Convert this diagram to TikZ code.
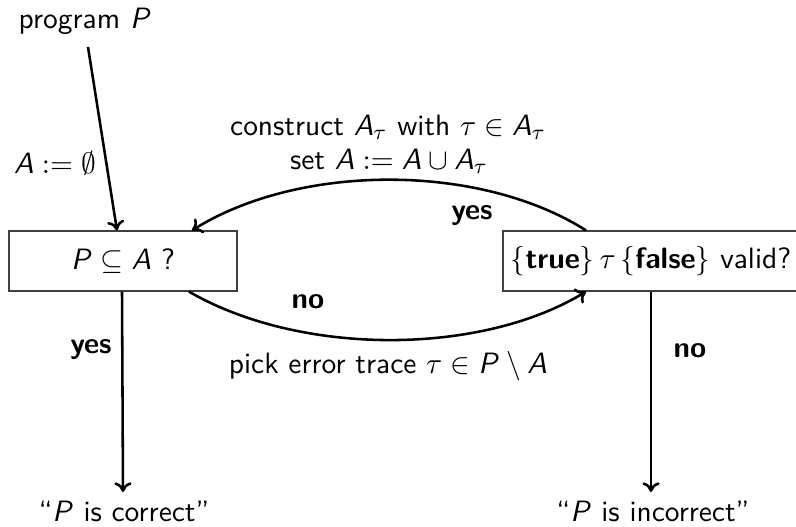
\documentclass[tikz,border=0pt]{standalone}
\usepackage{amssymb}
\usetikzlibrary{arrows.meta}
% sans slanted letters for the variables in formulas
\DeclareSymbolFont{sfslanted}{OT1}{cmss}{m}{sl}
\DeclareMathSymbol{A}{\mathalpha}{sfslanted}{`A}
\DeclareMathSymbol{P}{\mathalpha}{sfslanted}{`P}
\renewcommand{\familydefault}{\sfdefault}
\begin{document}
\begin{tikzpicture}[x=0.372pt,y=-0.372pt,
  every node/.style={font=\fontsize{10.95}{13}\selectfont\sffamily},
  decision/.style={draw=black!75, line width=0.45pt, inner sep=0pt,
    minimum height={60*0.372pt}},
  flow/.style={line width=0.95pt, -{To[length=3.6pt,width=6.4pt]}},
  answer/.style={font=\fontsize{10.95}{13}\selectfont\sffamily\bfseries}]
\useasboundingbox (0,0) rectangle (796,526);

% nodes
\node (prog) at (85,21) {program $P$};
\node[decision, minimum width={228*0.372pt}] (incl) at (123,261) {$P \subseteq A$ ?};
\node[decision, minimum width={296*0.372pt}] (valid) at (651,261)
  {$\{\textbf{true}\}\,\tau\,\{\textbf{false}\}$ valid?};
\node (ok) at (124,511) {“$P$ is correct”};
\node (bad) at (653,511) {“$P$ is incorrect”};

% edge texts
\node (init) at (55,163) {$A := \emptyset$};
\node (refine) at (388,127) {construct $A_\tau$ with $\tau \in A_\tau$};
\node (setA) at (389,161) {set $A := A \cup A_\tau$};
\node (pick) at (388,366) {pick error trace $\tau \in P \setminus A$};
\node[answer] (yesTop) at (472,216) {yes};
\node[answer] (noMid) at (308,302) {no};
\node[answer] (yesLeft) at (91,350) {yes};
\node[answer] (noRight) at (690,351) {no};

% connectors
\coordinate (progfoot) at (88,47);
\draw[flow] (progfoot) -- ([xshift={-6*0.372pt}]incl.north);
\draw[flow] ([xshift={-65*0.372pt}]valid.north)
  .. controls (480,163) and (300,163) .. ([xshift={69*0.372pt}]incl.north);
\draw[flow] ([xshift={66*0.372pt}]incl.south)
  .. controls (300,356) and (480,356) .. ([xshift={-65*0.372pt}]valid.south);
\draw[flow] ([xshift={-1*0.372pt}]incl.south) -- (incl.south |- 0,492);
\draw[flow] (valid.south) -- (valid.south |- 0,492);
\end{tikzpicture}
\end{document}
